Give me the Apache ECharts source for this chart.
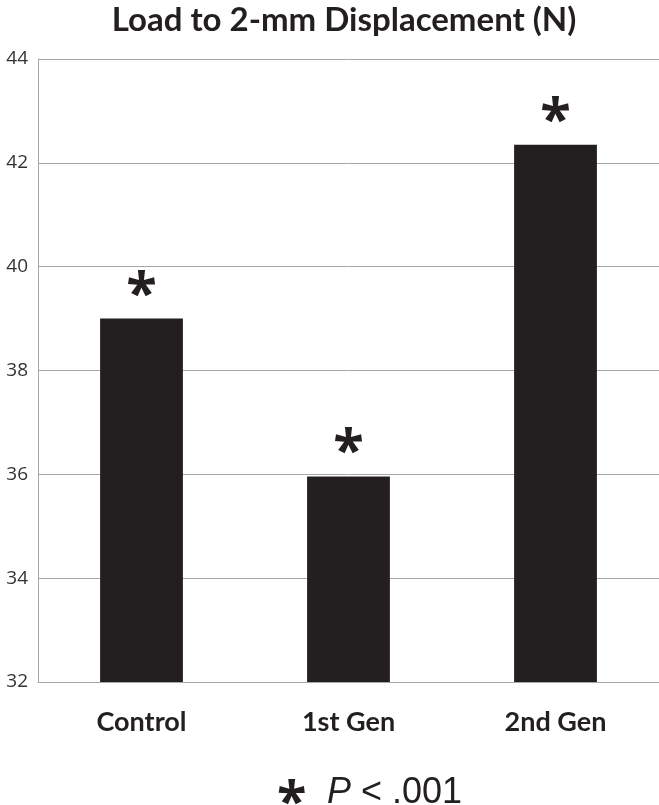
<!DOCTYPE html>
<html>
<head>
<meta charset="utf-8">
<script src="https://cdn.jsdelivr.net/npm/echarts@6/dist/echarts.min.js"></script>
<style>
  html, body { margin: 0; padding: 0; background: #fff; }
  #main { width: 659px; height: 805px; }
</style>
</head>
<body>
<div id="main"></div>
<script>
// data
var categories = ['Control', '1st Gen', '2nd Gen'];
var loadValues = [39.0, 35.96, 42.35];
var yTicks = [32, 34, 36, 38, 40, 42, 44];

var myChart = echarts.init(document.getElementById('main'));
var option = {
  animation: false,
  title: {
    text: 'Load to 2-mm Displacement (N)',
    left: 339,
    textAlign: 'center',
    top: -1,
    textStyle: { fontFamily: 'Lato', fontWeight: 'bold', fontSize: 33, color: '#231f20' }
  },
  graphic: [{
    type: 'text',
    left: 277,
    top: 778,
    style: {
      text: '*',
      font: 'bold 54px "Open Sans"',
      fill: '#231f20'
    }
  }, {
    type: 'text',
    left: 327,
    top: 775,
    style: {
      text: '{b|P} < .001',
      rich: {
        b: { fontFamily: 'Liberation Sans', fontStyle: 'italic', fontSize: 36, fill: '#231f20' }
      },
      font: '36px "Liberation Sans"',
      fill: '#231f20'
    }
  }],
  grid: { left: 38, right: 0, top: 59, bottom: 123 },
  xAxis: {
    type: 'category',
    data: categories,
    axisTick: { show: false },
    axisLine: { lineStyle: { color: '#a6a6a6' } },
    axisLabel: { margin: 27, fontFamily: 'Lato', fontWeight: 'bold', fontSize: 27, color: '#231f20' }
  },
  yAxis: {
    type: 'value',
    min: yTicks[0],
    max: yTicks[yTicks.length - 1],
    interval: 2,
    axisLine: { show: true, lineStyle: { color: '#a6a6a6' } },
    axisTick: { show: false },
    splitLine: { lineStyle: { color: '#a6a6a6', width: 1 } },
    axisLabel: { margin: 10, fontFamily: 'Open Sans', fontSize: 19, color: '#333' }
  },
  series: [{
    type: 'bar',
    data: loadValues,
    barWidth: '40%',
    itemStyle: { color: '#231f20' },
    label: {
      show: true,
      position: 'top',
      distance: -5,
      formatter: '*',
      fontFamily: 'Open Sans',
      fontWeight: 'bold',
      fontSize: 56,
      color: '#231f20'
    }
  }]
};
myChart.setOption(option);
</script>
</body>
</html>
